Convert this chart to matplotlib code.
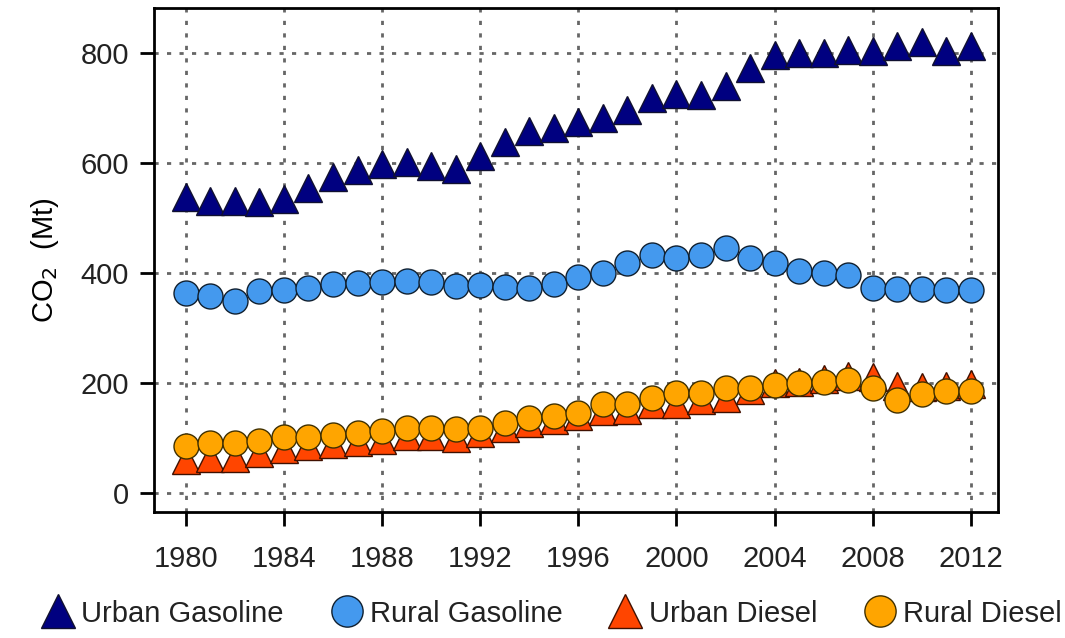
import matplotlib
matplotlib.use("Agg")
import matplotlib.pyplot as plt

plt.rcParams['font.family'] = ['Liberation Sans', 'DejaVu Sans']
plt.rcParams['text.color'] = '#222222'

years = list(range(1980, 2013))

urban_gasoline = [538, 531, 530, 529, 534, 554, 574, 587, 598, 601, 595, 589, 613,
                  639, 658, 664, 674, 682, 696, 718, 725, 723, 740, 773, 796, 800,
                  800, 806, 804, 812, 820, 804, 813]
rural_gasoline = [364, 358, 348, 367, 369, 372, 380, 381, 384, 385, 384, 376, 378,
                  375, 372, 380, 393, 400, 418, 433, 427, 433, 445, 427, 418, 404,
                  400, 396, 372, 370, 370, 368, 368]
urban_diesel = [60, 64, 64, 72, 80, 85, 89, 93, 96, 104, 104, 100, 109,
                118, 127, 133, 140, 149, 151, 162, 162, 169, 173, 187, 200, 202,
                207, 213, 211, 195, 193, 195, 197]
rural_diesel = [85, 90, 90, 95, 101, 101, 105, 108, 112, 117, 118, 116, 118,
                127, 136, 140, 146, 161, 161, 172, 181, 182, 191, 191, 196, 200,
                202, 205, 191, 169, 180, 185, 185]

fig = plt.figure(figsize=(10.65, 6.38), dpi=100)
ax = fig.add_axes([0.1445, 0.1975, 0.7925, 0.79])

ax.plot(years, urban_gasoline, linestyle='none', marker='^', markersize=20,
        markerfacecolor='#000080', markeredgecolor='#101030', markeredgewidth=1,
        label='Urban Gasoline', zorder=3)
ax.plot(years, rural_gasoline, linestyle='none', marker='o', markersize=18,
        markerfacecolor='#4499ee', markeredgecolor='#102030', markeredgewidth=1,
        label='Rural Gasoline', zorder=3)
ax.plot(years, urban_diesel, linestyle='none', marker='^', markersize=20,
        markerfacecolor='#ff4500', markeredgecolor='#401000', markeredgewidth=1,
        label='Urban Diesel', zorder=3)
ax.plot(years, rural_diesel, linestyle='none', marker='o', markersize=18,
        markerfacecolor='#ffa500', markeredgecolor='#403000', markeredgewidth=1,
        label='Rural Diesel', zorder=4)

ax.set_xlim(1978.7, 2013.1)
ax.set_ylim(-35, 882)
ax.set_xticks(range(1980, 2013, 4))
ax.set_yticks(range(0, 801, 200))
ax.grid(True, color='#666666', linestyle=(0, (1.5, 3)), linewidth=2)
ax.set_axisbelow(True)

for s in ax.spines.values():
    s.set_linewidth(2)
ax.tick_params(axis='both', direction='out', length=10, width=2, labelsize=21,
               labelcolor='#222222')
ax.tick_params(axis='y', pad=8)
ax.tick_params(axis='x', pad=14)
ax.set_ylabel('CO$_2$  (Mt)', fontsize=21, labelpad=14)

fig.legend(loc='lower center', ncol=4, frameon=False, fontsize=21,
           bbox_to_anchor=(0.515, -0.025), handletextpad=0.0, columnspacing=1.35,
           handlelength=1.6, markerscale=1.25)

fig.savefig('out.png', dpi=100)
